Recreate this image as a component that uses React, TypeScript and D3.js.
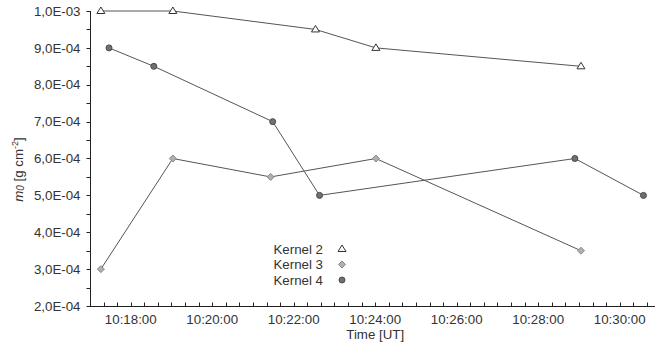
import React, { useRef, useEffect } from 'react';
import * as d3 from 'd3';

// times as "HH:MM:SS", values in g cm^-2
const kernel2Times = ['10:17:16', '10:19:02', '10:22:32', '10:24:01', '10:29:03'];
const kernel2Values = [1.0e-3, 1.0e-3, 9.5e-4, 9.0e-4, 8.5e-4];

const kernel3Times = ['10:17:16', '10:19:02', '10:21:26', '10:24:01', '10:29:03'];
const kernel3Values = [3.0e-4, 6.0e-4, 5.5e-4, 6.0e-4, 3.5e-4];

const kernel4Times = ['10:17:28', '10:18:34', '10:21:29', '10:22:38', '10:28:54', '10:30:35'];
const kernel4Values = [9.0e-4, 8.5e-4, 7.0e-4, 5.0e-4, 6.0e-4, 5.0e-4];

const yTicks = [2e-4, 3e-4, 4e-4, 5e-4, 6e-4, 7e-4, 8e-4, 9e-4, 1e-3];
const xTickLabels = ['10:18:00', '10:20:00', '10:22:00', '10:24:00', '10:26:00', '10:28:00', '10:30:00'];

const toSec = (t: string) => {
  const [h, m, s] = t.split(':').map(Number);
  return h * 3600 + m * 60 + s;
};

const fmtSci = (v: number) => {
  const e = Math.floor(Math.log10(v) + 1e-9);
  const m = v / Math.pow(10, e);
  const sign = e < 0 ? '-' : '+';
  return `${m.toFixed(1).replace('.', ',')}E${sign}${String(Math.abs(e)).padStart(2, '0')}`;
};

const App = () => {
  const svgRef = useRef<SVGSVGElement>(null);

  useEffect(() => {
    const svg = d3.select(svgRef.current);
    svg.selectAll('*').remove();

    const font = 'Liberation Sans, Arial, sans-serif';
    const fs = 13.3;
    const textColor = '#333';

    const x = d3.scaleLinear()
      .domain([toSec('10:17:00'), toSec('10:30:52')])
      .range([90, 655]);
    const y = d3.scaleLinear().domain([2e-4, 1e-3]).range([306, 11]);

    // y axis
    const yAxis = svg.append('g').attr('transform', 'translate(90.5,0)');
    yAxis.append('line').attr('x1', 0).attr('x2', 0).attr('y1', y(1e-3)).attr('y2', y(2e-4))
      .attr('stroke', '#222');
    const yMinor = d3.range(2e-4, 1e-3 + 1e-9, 5e-5);
    yAxis.selectAll('.ym').data(yMinor).enter().append('line')
      .attr('x1', -4).attr('x2', 0)
      .attr('y1', d => Math.round(y(d)) + 0.5).attr('y2', d => Math.round(y(d)) + 0.5)
      .attr('stroke', '#222');
    yAxis.selectAll('.yl').data(yTicks).enter().append('text')
      .attr('x', -10).attr('y', d => y(d)).attr('dy', '0.35em')
      .attr('text-anchor', 'end')
      .attr('font-family', font).attr('font-size', fs).attr('fill', textColor)
      .text(d => fmtSci(d));

    // x axis
    const xAxis = svg.append('g').attr('transform', 'translate(0,306.5)');
    xAxis.append('line').attr('x1', 90).attr('x2', 655).attr('stroke', '#222');
    const [x0, x1] = x.domain();
    const xMinor = d3.range(Math.ceil(x0 / 20) * 20, x1, 20).filter(s => x(s) > 92);
    xAxis.selectAll('.xm').data(xMinor).enter().append('line')
      .attr('x1', d => Math.round(x(d)) + 0.5).attr('x2', d => Math.round(x(d)) + 0.5)
      .attr('y1', -4).attr('y2', 0)
      .attr('stroke', '#222');
    xAxis.selectAll('.xl').data(xTickLabels).enter().append('text')
      .attr('x', d => x(toSec(d))).attr('y', 17)
      .attr('text-anchor', 'middle')
      .attr('font-family', font).attr('font-size', fs).attr('fill', textColor)
      .text(d => d);

    // axis titles
    svg.append('text')
      .attr('x', x(toSec('10:24:00'))).attr('y', 339)
      .attr('text-anchor', 'middle')
      .attr('font-family', font).attr('font-size', fs).attr('fill', textColor)
      .text('Time [UT]');

    const yTitle = svg.append('text')
      .attr('transform', `translate(23,${y(5.7e-4)}) rotate(-90)`)
      .attr('text-anchor', 'middle')
      .attr('font-family', font).attr('font-size', fs).attr('fill', textColor);
    yTitle.append('tspan').attr('font-style', 'italic').text('m');
    yTitle.append('tspan').attr('font-style', 'italic').attr('font-size', 10).attr('dy', 1).text('0');
    yTitle.append('tspan').attr('dy', -1).text(' [g cm');
    yTitle.append('tspan').attr('font-size', 9).attr('dy', -5).text('-2');
    yTitle.append('tspan').attr('dy', 5).text(']');

    const series = [
      { name: 'Kernel 2', times: kernel2Times, values: kernel2Values, shape: 'triangle' },
      { name: 'Kernel 3', times: kernel3Times, values: kernel3Values, shape: 'diamond' },
      { name: 'Kernel 4', times: kernel4Times, values: kernel4Values, shape: 'circle' },
    ];

    const line = d3.line<[number, number]>().x(d => x(d[0])).y(d => y(d[1]));

    series.forEach(s => {
      const pts: [number, number][] = s.times.map((t, i) => [toSec(t), s.values[i]]);
      svg.append('path').datum(pts)
        .attr('d', line)
        .attr('fill', 'none')
        .attr('stroke', '#555')
        .attr('stroke-width', 1);
    });

    const drawMarker = (g: any, shape: string, cx: number, cy: number) => {
      if (shape === 'triangle') {
        g.append('path')
          .attr('d', `M${cx},${cy - 4}L${cx + 4},${cy + 2.5}L${cx - 4},${cy + 2.5}Z`)
          .attr('fill', '#fff').attr('stroke', '#333').attr('stroke-width', 1);
      } else if (shape === 'diamond') {
        g.append('path')
          .attr('d', `M${cx},${cy - 3.5}L${cx + 3.5},${cy}L${cx},${cy + 3.5}L${cx - 3.5},${cy}Z`)
          .attr('fill', '#b0b0b0').attr('stroke', '#888').attr('stroke-width', 1);
      } else {
        g.append('circle').attr('cx', cx).attr('cy', cy).attr('r', 3)
          .attr('fill', '#707070').attr('stroke', '#4a4a4a').attr('stroke-width', 1);
      }
    };

    const markers = svg.append('g');
    series.forEach(s => {
      s.times.forEach((t, i) => drawMarker(markers, s.shape, x(toSec(t)), y(s.values[i])));
    });

    // legend
    const legend = svg.append('g');
    series.forEach((s, i) => {
      const ly = 249 + i * 15.5;
      legend.append('text')
        .attr('x', 323).attr('y', ly).attr('dy', '0.35em')
        .attr('text-anchor', 'end')
        .attr('font-family', font).attr('font-size', fs).attr('fill', textColor)
        .text(s.name);
      drawMarker(legend, s.shape, 342, ly);
    });
  }, []);

  return (
    <svg ref={svgRef} width={655} height={346}
      style={{ position: 'absolute', left: 0, top: 0, background: '#fff' }} />
  );
};

export default App;
